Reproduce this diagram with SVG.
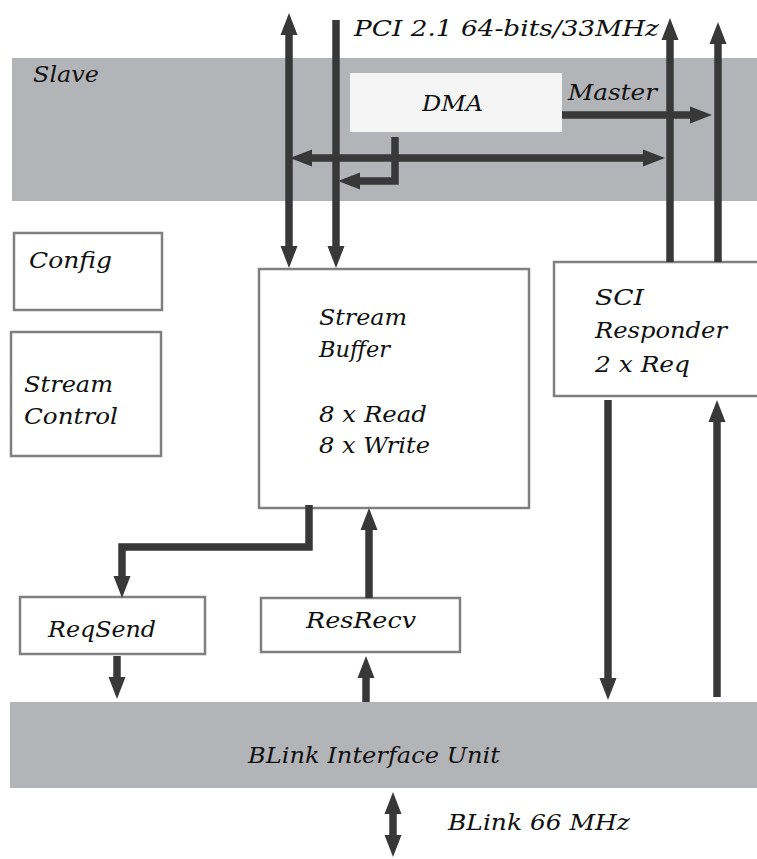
<svg xmlns="http://www.w3.org/2000/svg" width="757" height="859" viewBox="0 0 757 859">
<style>
text{font-family:"DejaVu Serif","Liberation Serif",serif;font-style:italic;fill:#111;font-size:22px}
.band{fill:#b3b4b8}
.box{fill:#fff;stroke:#808080;stroke-width:2.5}
.c{fill:none;stroke:#383838;stroke-width:7.5}
</style>
<defs>
<marker id="ah" markerUnits="userSpaceOnUse" markerWidth="24" markerHeight="18" viewBox="0 -9 24 18" refX="0" refY="0" orient="auto-start-reverse">
<path d="M0,-8.5 L22,0 L0,8.5 Z" fill="#383838"/>
</marker>
</defs>
<rect width="757" height="859" fill="#fff"/>
<g id="slave-band"><rect class="band" x="12" y="58" width="745" height="143"/><text x="33" y="82" textLength="66" lengthAdjust="spacingAndGlyphs">Slave</text></g>
<g id="dma"><rect x="350" y="73" width="212" height="59" fill="#f5f5f5"/><text x="422" y="111" textLength="61" lengthAdjust="spacingAndGlyphs">DMA</text></g>
<g id="blink-band"><rect class="band" x="10" y="702" width="747" height="86"/><text x="248" y="763" textLength="252" lengthAdjust="spacingAndGlyphs">BLink Interface Unit</text></g>
<g id="config"><rect class="box" x="14" y="233" width="148" height="77"/><text x="29" y="268" textLength="83" lengthAdjust="spacingAndGlyphs">Config</text></g>
<g id="stream-control"><rect class="box" x="11" y="332" width="150" height="124"/><text x="24" y="392" textLength="89" lengthAdjust="spacingAndGlyphs">Stream</text><text x="24" y="424" textLength="94" lengthAdjust="spacingAndGlyphs">Control</text></g>
<g id="stream-buffer"><rect class="box" x="259" y="269" width="270" height="239"/><text x="319" y="325" textLength="88" lengthAdjust="spacingAndGlyphs">Stream</text><text x="319" y="357" textLength="71" lengthAdjust="spacingAndGlyphs">Buffer</text><text x="319" y="422" textLength="108" lengthAdjust="spacingAndGlyphs">8 x Read</text><text x="319" y="453" textLength="111" lengthAdjust="spacingAndGlyphs">8 x Write</text></g>
<g id="sci"><rect class="box" x="554" y="262" width="205" height="134"/><text x="595" y="305" textLength="49" lengthAdjust="spacingAndGlyphs">SCI</text><text x="595" y="338" textLength="132" lengthAdjust="spacingAndGlyphs">Responder</text><text x="595" y="372" textLength="95" lengthAdjust="spacingAndGlyphs">2 x Req</text></g>
<g id="reqsend"><rect class="box" x="20" y="597" width="185" height="57"/><text x="48" y="637" textLength="108" lengthAdjust="spacingAndGlyphs">ReqSend</text></g>
<g id="resrecv"><rect class="box" x="261" y="598" width="199" height="54"/><text x="306" y="628" textLength="110" lengthAdjust="spacingAndGlyphs">ResRecv</text></g>
<g id="labels"><text x="354" y="36" font-size="25" textLength="305" lengthAdjust="spacingAndGlyphs">PCI 2.1 64-bits/33MHz</text><text x="568" y="100" textLength="89" lengthAdjust="spacingAndGlyphs">Master</text><text x="448" y="830" textLength="182" lengthAdjust="spacingAndGlyphs">BLink 66 MHz</text></g>
<g id="connectors">
<path class="c" d="M289,35 V246" marker-start="url(#ah)" marker-end="url(#ah)"/>
<path class="c" d="M336,20 V246" marker-end="url(#ah)"/>
<path class="c" d="M312,158 H643" marker-start="url(#ah)" marker-end="url(#ah)"/>
<path class="c" d="M395,137 V181 H360" marker-end="url(#ah)"/>
<path class="c" d="M562,115 H690" marker-end="url(#ah)"/>
<path class="c" d="M670,262 V40" marker-end="url(#ah)"/>
<path class="c" d="M718,262 V44" marker-end="url(#ah)"/>
<path class="c" d="M608,400 V678" marker-end="url(#ah)"/>
<path class="c" d="M717,697 V422" marker-end="url(#ah)"/>
<path class="c" d="M309,505 V547 H122 V576" marker-end="url(#ah)"/>
<path class="c" d="M117,656 V677" marker-end="url(#ah)"/>
<path class="c" d="M366,702 V678" marker-end="url(#ah)"/>
<path class="c" d="M369,598 V530" marker-end="url(#ah)"/>
<path class="c" d="M393,814 V835" marker-start="url(#ah)" marker-end="url(#ah)"/>
</g>
</svg>
